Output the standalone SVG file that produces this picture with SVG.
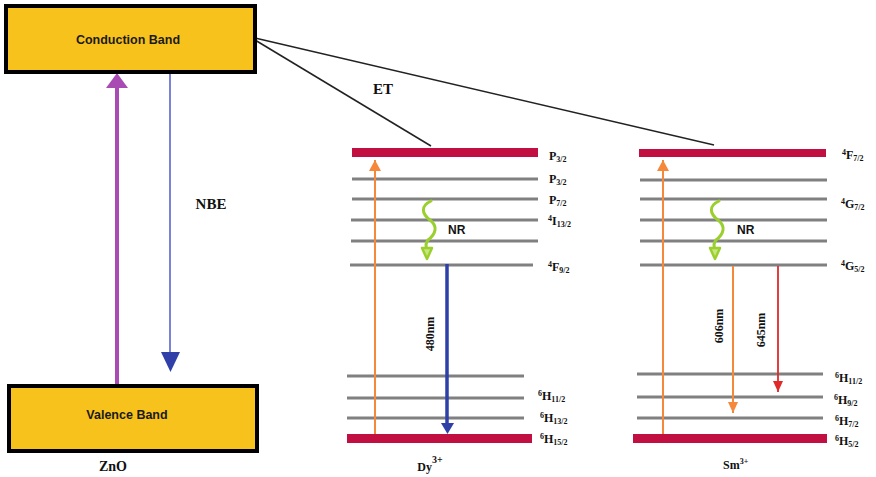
<svg xmlns="http://www.w3.org/2000/svg" width="876" height="477" viewBox="0 0 876 477">
<style>
.band{fill:#F8C21C;stroke:#000;stroke-width:4}
.bandtxt{font-family:"Liberation Sans",Arial,sans-serif;font-weight:bold;font-size:12.5px;fill:#1a1a1a;text-anchor:middle}
.ser{font-family:"Liberation Serif","Times New Roman",serif;font-weight:bold;fill:#111}
.lvl{font-family:"Liberation Serif","Times New Roman",serif;font-weight:bold;font-size:12px;fill:#111}
.sm{font-size:8px}
.red{fill:#C20F42}
.gray{stroke:#808080;stroke-width:3}
.et{stroke:#222;stroke-width:1.5;fill:none}
.nr{font-family:"Liberation Sans",Arial,sans-serif;font-weight:bold;font-size:12px;fill:#111}
.wave{stroke:#9BCF2E;stroke-width:3;fill:none;stroke-linecap:round}
</style>
<defs>
<marker id="hOrange" markerUnits="userSpaceOnUse" markerWidth="12" markerHeight="13" refX="11" refY="6" orient="auto"><path d="M0,0 L11,6 L0,12 Z" fill="#F5883A"/></marker>
<marker id="hRed" markerUnits="userSpaceOnUse" markerWidth="12" markerHeight="11" refX="11" refY="5" orient="auto"><path d="M0,0 L11,5 L0,10 Z" fill="#E02A2A"/></marker>
<marker id="hOr2" markerUnits="userSpaceOnUse" markerWidth="12" markerHeight="11" refX="11" refY="5" orient="auto"><path d="M0,0 L11,5 L0,10 Z" fill="#F5883A"/></marker>
</defs>

<g id="connectors">
  <line class="et" x1="255" y1="40" x2="431" y2="146"/>
  <line class="et" x1="255" y1="38" x2="714" y2="145"/>
  <line x1="117" y1="385" x2="117" y2="86" stroke="#A84CB4" stroke-width="4"/>
  <polygon points="117,73 106,88 128,88" fill="#A84CB4"/>
  <line x1="170" y1="74" x2="170" y2="353" stroke="#6B74D6" stroke-width="1.8"/>
  <polygon points="161,352 180,352 170.5,372" fill="#3040A8"/>
</g>

<g id="conduction-band">
  <rect class="band" x="6" y="6" width="249" height="66"/>
  <text class="bandtxt" x="128" y="44">Conduction Band</text>
</g>
<g id="valence-band">
  <rect class="band" x="9" y="386" width="248" height="65"/>
  <text class="bandtxt" x="127" y="419">Valence Band</text>
</g>
<text class="ser" x="113" y="471" font-size="14" text-anchor="middle">ZnO</text>
<text class="ser" x="211" y="209" font-size="15" text-anchor="middle">NBE</text>
<text class="ser" x="383" y="94" font-size="15" text-anchor="middle">ET</text>

<g id="dy">
  <rect class="red" x="352" y="148" width="186" height="9"/>
  <line class="gray" x1="352" y1="179" x2="538" y2="179"/>
  <line class="gray" x1="352" y1="199" x2="538" y2="199"/>
  <line class="gray" x1="351" y1="220" x2="538" y2="220"/>
  <line class="gray" x1="351" y1="241" x2="538" y2="241"/>
  <line class="gray" x1="350" y1="265" x2="533" y2="265"/>
  <line class="gray" x1="347" y1="376" x2="524" y2="376"/>
  <line class="gray" x1="347" y1="398" x2="524" y2="398"/>
  <line class="gray" x1="347" y1="418" x2="524" y2="418"/>
  <rect class="red" x="347" y="434" width="185" height="9"/>
  <line x1="375" y1="434" x2="375" y2="160" stroke="#F5883A" stroke-width="2" marker-end="url(#hOrange)"/>
  <line x1="447" y1="264" x2="447" y2="423" stroke="#2E3FA8" stroke-width="3.5"/>
  <polygon points="441,423 454,423 447.5,434" fill="#2E3FA8"/>
  <text class="ser" font-size="12" transform="translate(434,334) rotate(-90)" text-anchor="middle">480nm</text>
  <path class="wave" d="M431,201 C420,206 422,214 430,220 C438,226 436,234 428,240 C424,245 427,248 427,250"/>
  <path d="M422,248 L432,248 L427,259 Z" fill="#C6E67E" stroke="#9BCF2E" stroke-width="2.5" stroke-linejoin="round"/>
  <text class="nr" x="448" y="234">NR</text>
  <text class="ser" x="430" y="471" font-size="12" text-anchor="middle">Dy<tspan font-size="10" dy="-8">3+</tspan></text>
  <text class="lvl" x="549" y="160">P<tspan class="sm" dy="2">3/2</tspan></text>
  <text class="lvl" x="549" y="183">P<tspan class="sm" dy="2">3/2</tspan></text>
  <text class="lvl" x="549" y="204">P<tspan class="sm" dy="2">7/2</tspan></text>
  <text class="lvl" x="548" y="225"><tspan class="sm" dy="-4">4</tspan><tspan dy="4">I</tspan><tspan class="sm" dy="2">13/2</tspan></text>
  <text class="lvl" x="548" y="271"><tspan class="sm" dy="-4">4</tspan><tspan dy="4">F</tspan><tspan class="sm" dy="2">9/2</tspan></text>
  <text class="lvl" x="538" y="400"><tspan class="sm" dy="-4">6</tspan><tspan dy="4">H</tspan><tspan class="sm" dy="2">11/2</tspan></text>
  <text class="lvl" x="540" y="422"><tspan class="sm" dy="-4">6</tspan><tspan dy="4">H</tspan><tspan class="sm" dy="2">13/2</tspan></text>
  <text class="lvl" x="540" y="443"><tspan class="sm" dy="-4">6</tspan><tspan dy="4">H</tspan><tspan class="sm" dy="2">15/2</tspan></text>
</g>

<g id="sm">
  <rect class="red" x="639" y="149" width="187" height="8"/>
  <line class="gray" x1="640" y1="180" x2="827" y2="180"/>
  <line class="gray" x1="640" y1="199" x2="827" y2="199"/>
  <line class="gray" x1="640" y1="220" x2="827" y2="220"/>
  <line class="gray" x1="640" y1="241" x2="827" y2="241"/>
  <line class="gray" x1="640" y1="265" x2="827" y2="265"/>
  <line class="gray" x1="637" y1="374" x2="823" y2="374"/>
  <line class="gray" x1="637" y1="397" x2="823" y2="397"/>
  <line class="gray" x1="637" y1="418" x2="823" y2="418"/>
  <rect class="red" x="633" y="434" width="194" height="9"/>
  <line x1="663" y1="434" x2="663" y2="160" stroke="#F5883A" stroke-width="2" marker-end="url(#hOrange)"/>
  <line x1="733" y1="266" x2="733" y2="413" stroke="#F5883A" stroke-width="2" marker-end="url(#hOr2)"/>
  <line x1="778" y1="266" x2="778" y2="392" stroke="#E02A2A" stroke-width="1.8" marker-end="url(#hRed)"/>
  <text class="ser" font-size="12" transform="translate(723,326) rotate(-90)" text-anchor="middle">606nm</text>
  <text class="ser" font-size="12" transform="translate(765,330) rotate(-90)" text-anchor="middle">645nm</text>
  <path class="wave" d="M719,201 C708,206 710,214 718,220 C726,226 724,234 716,240 C712,245 715,248 715,250"/>
  <path d="M710,248 L720,248 L715,259 Z" fill="#C6E67E" stroke="#9BCF2E" stroke-width="2.5" stroke-linejoin="round"/>
  <text class="nr" x="737" y="234">NR</text>
  <text class="ser" x="723" y="469" font-size="12">Sm<tspan font-size="8" dy="-5">3+</tspan></text>
  <text class="lvl" x="842" y="159"><tspan class="sm" dy="-4">4</tspan><tspan dy="4">F</tspan><tspan class="sm" dy="2">7/2</tspan></text>
  <text class="lvl" x="841" y="208"><tspan class="sm" dy="-4">4</tspan><tspan dy="4">G</tspan><tspan class="sm" dy="2">7/2</tspan></text>
  <text class="lvl" x="841" y="270"><tspan class="sm" dy="-4">4</tspan><tspan dy="4">G</tspan><tspan class="sm" dy="2">5/2</tspan></text>
  <text class="lvl" x="835" y="382"><tspan class="sm" dy="-4">6</tspan><tspan dy="4">H</tspan><tspan class="sm" dy="2">11/2</tspan></text>
  <text class="lvl" x="834" y="404"><tspan class="sm" dy="-4">6</tspan><tspan dy="4">H</tspan><tspan class="sm" dy="2">9/2</tspan></text>
  <text class="lvl" x="835" y="425"><tspan class="sm" dy="-4">6</tspan><tspan dy="4">H</tspan><tspan class="sm" dy="2">7/2</tspan></text>
  <text class="lvl" x="835" y="445"><tspan class="sm" dy="-4">6</tspan><tspan dy="4">H</tspan><tspan class="sm" dy="2">5/2</tspan></text>
</g>
</svg>
